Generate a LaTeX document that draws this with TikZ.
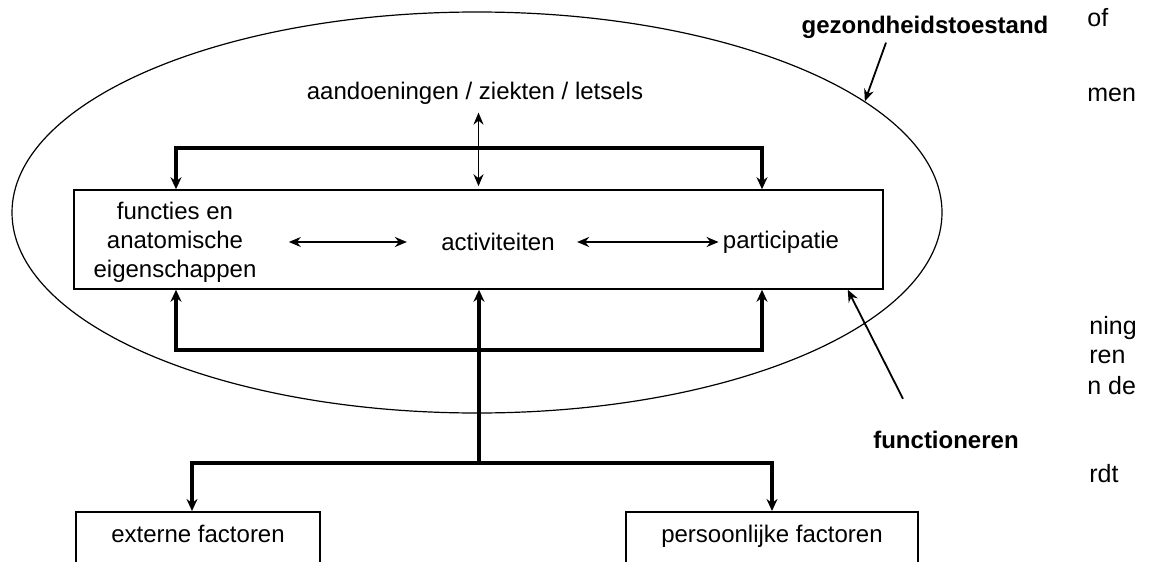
\documentclass[tikz,border=0pt]{standalone}
\usepackage{fontspec}
\setmainfont{Liberation Sans}
\usetikzlibrary{shapes.geometric, arrows.meta}

\begin{document}
\begin{tikzpicture}[
    x=0.5pt, y=-0.5pt,
    lbl/.style={inner sep=0pt, align=center,
              font=\fontsize{12}{14.5}\selectfont},
    lblbold/.style={inner sep=0pt,
              font=\fontsize{12}{14.5}\selectfont\bfseries},
    randtekst/.style={inner sep=0pt, anchor=west,
              font=\fontsize{12.5}{15}\selectfont},
    kaderbox/.style={rectangle, draw, line width=0.75pt, inner sep=0pt},
    factorbox/.style={rectangle, draw, line width=0.75pt, anchor=north,
              inner sep=0pt, text height=15.5pt, text depth=40pt,
              font=\fontsize{12}{14.5}\selectfont},
    beugel/.style={line width=2pt, >={Stealth[length=6pt, width=5.5pt]}},
    dunpijl/.style={line width=0.9pt, >={Stealth[length=6pt, width=5pt]}}
]
    \useasboundingbox (0,0) rectangle (1151,562);
    \clip (0,0) rectangle (1151,562);

    % gezondheidstoestand
    \node[ellipse, draw, line width=0.6pt, inner sep=0pt,
          minimum width=465pt, minimum height=200.5pt] (gezond) at (477,212.5) {};
    \node[kaderbox, minimum width=404.5pt, minimum height=49.5pt] (kader) at (478.5,239.5) {};

    \node[lbl] (aandoen) at (475,93) {aandoeningen / ziekten / letsels};
    \node[lbl] (funct)   at (175,242) {functies en\\anatomische\\eigenschappen};
    \node[lbl] (activ)   at (498,242) {activiteiten};
    \node[lbl] (partic)  at (781,242) {participatie};

    \node[lblbold] (gezlabel)  at (925,27)  {gezondheidstoestand};
    \node[lblbold] (funclabel) at (946,440) {functioneren};

    \node[factorbox, minimum width=122pt] (extern)  at (198,511) {externe factoren};
    \node[factorbox, minimum width=146pt] (persoon) at (772,511) {persoonlijke factoren};

    % tekst van de pagina ernaast
    \node[randtekst] (r1) at (1087,18)  {of};
    \node[randtekst] (r2) at (1087,95)  {men};
    \node[randtekst] (r3) at (1089,328) {ning};
    \node[randtekst] (r4) at (1089,357) {ren};
    \node[randtekst] (r5) at (1087,386) {n de};
    \node[randtekst] (r6) at (1089,474) {rdt};

    \coordinate (linksboven)  at (176,148);
    \coordinate (rechtsboven) at (762,148);
    \coordinate (linksonder)  at (176,350);
    \coordinate (rechtsonder) at (762,350);
    \coordinate (splits)      at (479,463);
    \coordinate (extsplits)   at (192,463);
    \coordinate (perssplits)  at (772,463);

    \draw[dunpijl, <->, shorten <=16pt, shorten >=17pt] (funct.east |- activ) -- (activ.west);
    \draw[dunpijl, <->, shorten <=11pt, shorten >=2pt] (activ.east) -- (partic.west);
    \draw[dunpijl, <->, shorten <=4pt, shorten >=1.5pt] (kader.north |- aandoen.south) -- (kader.north);

    \draw[beugel, <->] (linksboven |- kader.north) -- (linksboven) -- (rechtsboven) -- (rechtsboven |- kader.north);
    \draw[beugel, <->] (linksonder |- kader.south) -- (linksonder) -- (rechtsonder) -- (rechtsonder |- kader.south);
    \draw[beugel, ->] (splits) -- (splits |- kader.south);
    \draw[beugel, <->] (extsplits |- extern.north) -- (extsplits) -- (perssplits) -- (persoon.north);

    \draw[dunpijl, ->] ([xshift=-19.5pt, yshift=-2pt]gezlabel.south) -- (gezond.16);
    \draw[dunpijl, ->] ([xshift=-21.5pt, yshift=16pt]funclabel.north) -- ([xshift=-18pt]kader.south east);
\end{tikzpicture}
\end{document}
